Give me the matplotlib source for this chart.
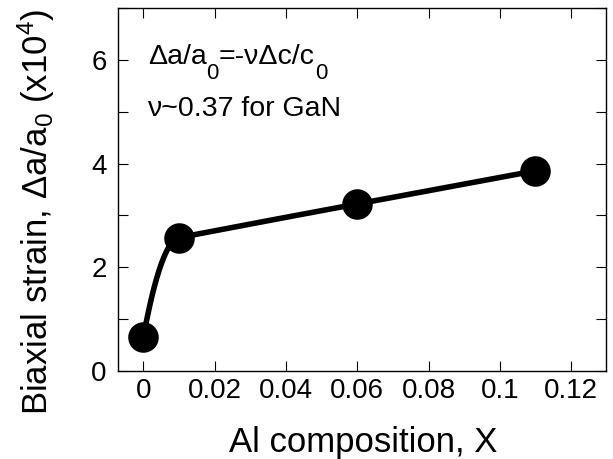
import numpy as np
import matplotlib
matplotlib.use("Agg")
import matplotlib.pyplot as plt
from matplotlib.ticker import MultipleLocator

plt.rcParams['font.family'] = ['Liberation Sans', 'DejaVu Sans']
plt.rcParams['mathtext.fontset'] = 'custom'
plt.rcParams['mathtext.rm'] = 'Liberation Sans'
plt.rcParams['mathtext.it'] = 'Liberation Sans'
plt.rcParams['mathtext.default'] = 'regular'

# Al composition and measured biaxial strain (x10^4)
al_composition = [0.0, 0.01, 0.06, 0.11]
biaxial_strain = [0.65, 2.57, 3.22, 3.86]

x_ticks = [0, 0.02, 0.04, 0.06, 0.08, 0.1, 0.12]
x_tick_labels = ["0", "0.02", "0.04", "0.06", "0.08", "0.1", "0.12"]
y_ticks = [0, 2, 4, 6]


def akima(x, y, xs):
    """Akima spline through the given points (parabolic end segments)."""
    x = np.asarray(x, float)
    y = np.asarray(y, float)
    h = np.diff(x)
    d = np.diff(y) / h
    dm1 = 2 * d[0] - d[1]
    dm2 = 2 * dm1 - d[0]
    dp1 = 2 * d[-1] - d[-2]
    dp2 = 2 * dp1 - d[-1]
    ext = np.concatenate([[dm2, dm1], d, [dp1, dp2]])
    n = len(x)
    m = np.zeros(n)
    for i in range(n):
        a = abs(ext[i + 3] - ext[i + 2])
        b = abs(ext[i + 1] - ext[i])
        if a + b == 0:
            m[i] = 0.5 * (ext[i + 1] + ext[i + 2])
        else:
            m[i] = (a * ext[i + 1] + b * ext[i + 2]) / (a + b)
    # end slopes so that the first and last segments are parabolas
    m[0] = 2 * d[0] - m[1]
    m[-1] = 2 * d[-1] - m[-2]
    idx = np.clip(np.searchsorted(x, xs) - 1, 0, n - 2)
    t = (xs - x[idx]) / h[idx]
    h00 = 2 * t**3 - 3 * t**2 + 1
    h10 = t**3 - 2 * t**2 + t
    h01 = -2 * t**3 + 3 * t**2
    h11 = t**3 - t**2
    return (h00 * y[idx] + h10 * h[idx] * m[idx]
            + h01 * y[idx + 1] + h11 * h[idx] * m[idx + 1])


fig = plt.figure(figsize=(6.13, 4.59), dpi=100)
ax = fig.add_axes([0.192, 0.1924, 0.7966, 0.7896])

xs = np.linspace(al_composition[0], al_composition[-1], 500)
ax.plot(xs, akima(al_composition, biaxial_strain, xs),
        color='black', lw=4.0, solid_capstyle='round', zorder=2)
ax.plot(al_composition, biaxial_strain, 'o', color='black',
        markersize=22, markeredgewidth=0, zorder=3)

ax.set_xlim(-0.0072, 0.1298)
ax.set_ylim(0, 7)
ax.set_xticks(x_ticks)
ax.set_xticklabels(x_tick_labels)
ax.set_yticks(y_ticks)
ax.yaxis.set_minor_locator(MultipleLocator(1))

ax.tick_params(which='both', direction='in', top=True, right=True,
               labelsize=20, width=0.8, length=7)
ax.tick_params(axis='x', pad=5)
ax.tick_params(axis='y', pad=8)
for s in ax.spines.values():
    s.set_linewidth(1.0)

ax.set_xlabel("Al composition, X", fontsize=25, va='baseline')
ax.xaxis.set_label_coords(0.503, -0.2243)
ax.set_ylabel(r"Biaxial strain, $\Delta$a/a$_0$ (x10$^4$)", fontsize=25,
              va='baseline', rotation_mode='anchor')
ax.yaxis.set_label_coords(-0.1427, 0.439)

# relation text: runs of (string, size, baseline shift in points)
fig.canvas.draw()
renderer = fig.canvas.get_renderer()


def draw_runs(x, y, runs):
    dx = 0.0
    for s, size, dy in runs:
        t = ax.annotate(s, (x, y), xycoords='data', xytext=(dx, dy),
                        textcoords='offset points', fontsize=size,
                        ha='left', va='baseline')
        dx += t.get_window_extent(renderer).width * 72.0 / fig.dpi


draw_runs(0.0012, 5.92, [("\u0394a/a", 20.5, 0), ("0", 16, -10.8),
                         ("=-\u03bd\u0394c/c", 20.5, 0), ("0", 16, -10.8)])
draw_runs(0.0010, 4.92, [("\u03bd~0.37 for GaN", 20.5, 0)])

fig.savefig("out.png", dpi=100)
